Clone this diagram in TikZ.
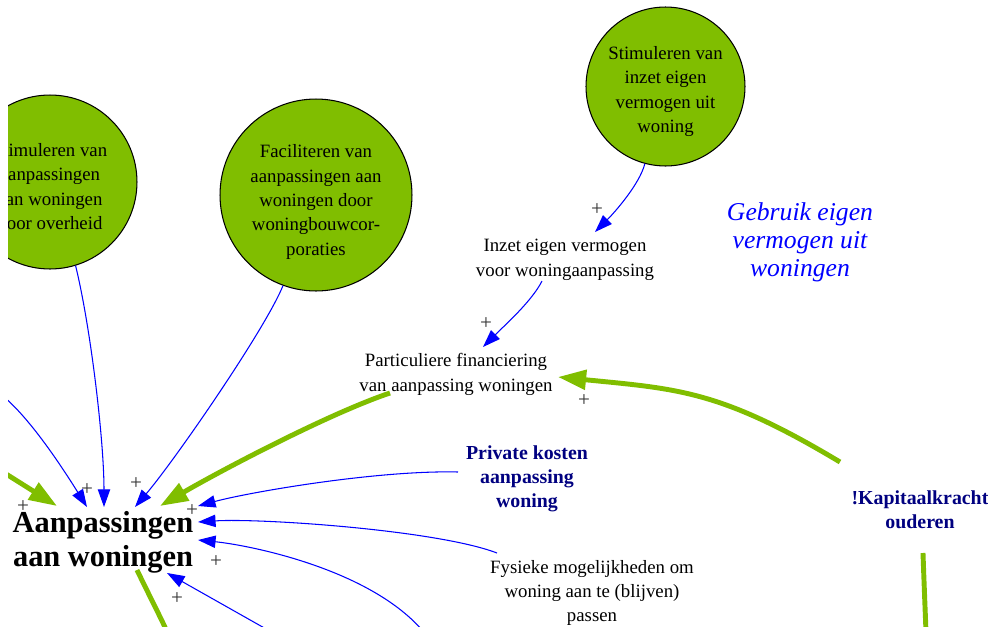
\documentclass[tikz,border=0pt]{standalone}
\usepackage{fontspec}
\setmainfont{Liberation Serif}
\usetikzlibrary{arrows.meta,calc}
\definecolor{grassGreen}{RGB}{128,190,0}
\colorlet{penColor}{blue}
\colorlet{penColor2}{grassGreen}
\colorlet{labelColor}{blue!50!black}
\tikzset{
  >={Triangle[length=10pt,width=7pt]},
  policy/.style={circle,draw=black,line width=0.6pt,fill=grassGreen,inner sep=0pt},
  policyText/.style={align=center,inner sep=0pt,font=\fontsize{10.7}{13.9}\selectfont},
  factor/.style={align=center,inner sep=1pt,font=\fontsize{10.7}{13.9}\selectfont},
  keyFactor/.style={align=center,inner sep=1pt,text=labelColor,font=\bfseries\fontsize{11.3}{13.6}\selectfont},
  posLink/.style={->,penColor,line width=0.6pt},
  strongLink/.style={-{Triangle[length=16pt,width=11pt]},penColor2,line width=2.8pt},
  plusSign/.style={inner sep=0pt,text=black!80,font=\fontsize{12}{14}\selectfont}
}
\begin{document}
\begin{tikzpicture}[x=0.02cm,y=-0.02cm]
\useasboundingbox (0,0) rectangle (988,626);
\clip (8,0) rectangle (988,626);

% beleid
\node[policy,minimum size=3.18cm,label={[policyText,yshift=-0.1cm]center:{Stimuleren van\\inzet eigen\\vermogen uit\\woning}}] (stimInzet) at (665.5,86.5) {};
\node[policy,minimum size=3.84cm,label={[policyText,yshift=-0.14cm]center:{Faciliteren van\\aanpassingen aan\\woningen door\\woningbouwcor-\\poraties}}] (facCorp) at (316,195) {};
\node[policy,minimum size=3.48cm,label={[policyText,yshift=-0.09cm]center:{Stimuleren van\\aanpassingen\\aan woningen\\door overheid}}] (stimOverheid) at (50,182) {};

% factoren
\node[factor] (inzet) at (565,260) {Inzet eigen vermogen\\voor woningaanpassing};
\node[factor] (partic) at (456,374.5) {Particuliere financiering\\van aanpassing woningen};
\node[keyFactor] (private) at (527,479) {Private kosten\\aanpassing\\woning};
\node[factor] (fysiek) at (592,593) {Fysieke mogelijkheden om\\woning aan te (blijven)\\passen};
\node[keyFactor] (kapitaal) at (920,510) {!Kapitaalkracht\\ouderen};
\node[align=center,inner sep=1pt,font=\bfseries\fontsize{17.3}{19.5}\selectfont] (aanpas) at (103,542) {Aanpassingen\\aan woningen};
\node[align=center,inner sep=1pt,text=penColor,font=\itshape\fontsize{14.6}{16}\selectfont] (gebruik) at (800,242) {Gebruik eigen\\vermogen uit\\woningen};

% losse einden buiten beeld
\coordinate (leftBlue) at (-5,390);
\coordinate (leftGreen) at (-5,467);
\coordinate (downGreenA) at (172,660);
\coordinate (downGreenB) at (926,660);
\coordinate (downBlueA) at (430,640);
\coordinate (downBlueB) at (321,660);

% verbanden
\draw[posLink] (stimInzet.255.5) .. controls +(-5,20) and +(20,-20) .. ($(inzet.center)+(30,-28)$);
\draw[posLink] ($(inzet.center)+(-23,21)$) .. controls +(-10,20) and +(22,-22) .. ($(partic.center)+(27,-27.5)$);
\draw[posLink] (stimOverheid.287.2) .. controls +(15,61) and +(0,-67) .. ($(aanpas.center)+(1,-35)$);
\draw[posLink] (facCorp.250.8) .. controls +(-18,44) and +(40,-47) .. ($(aanpas.center)+(32,-35)$);
\draw[posLink] (leftBlue) .. controls +(30,20) and +(-25,-40) .. ($(aanpas.center)+(-16,-35)$);
\draw[posLink] ($(private.center)+(-69,-7)$) .. controls +(-80,-2) and +(52,-14) .. ($(aanpas.center)+(95,-36)$);
\draw[posLink] ($(fysiek.center)+(-95,-40)$) .. controls +(-60,-23) and +(62,-4) .. ($(aanpas.center)+(95,-20)$);
\draw[posLink] (downBlueA) .. controls +(-50,-70) and +(50,5) .. ($(aanpas.center)+(95,-2)$);
\draw[posLink] (downBlueB) -- ($(aanpas.center)+(64,31)$);

\draw[strongLink] ($(partic.center)+(-66,18.5)$) .. controls +(-60,20) and +(60,-35) .. ($(aanpas.center)+(57,-36)$);
\draw[strongLink] (leftGreen) -- ($(aanpas.center)+(-46,-36)$);
\draw[strongLink] ($(kapitaal.center)+(-80,-48)$) .. controls +(-120,-72) and +(120,12) .. ($(partic.center)+(102,2.5)$);
\draw[strongLink] ($(aanpas.center)+(34,28)$) .. controls +(12,25) and +(-5,-30) .. (downGreenA);
\draw[strongLink] ($(kapitaal.center)+(3,43)$) .. controls +(1,30) and +(0,-30) .. (downGreenB);

% polariteit
\foreach \px/\py [count=\i] in {597/210,486/324,87/490,136/484,23/507,192/511,216/562,177/599,584/401}
  \node[plusSign] (plus\i) at (\px,\py) {+};
\end{tikzpicture}
\end{document}
